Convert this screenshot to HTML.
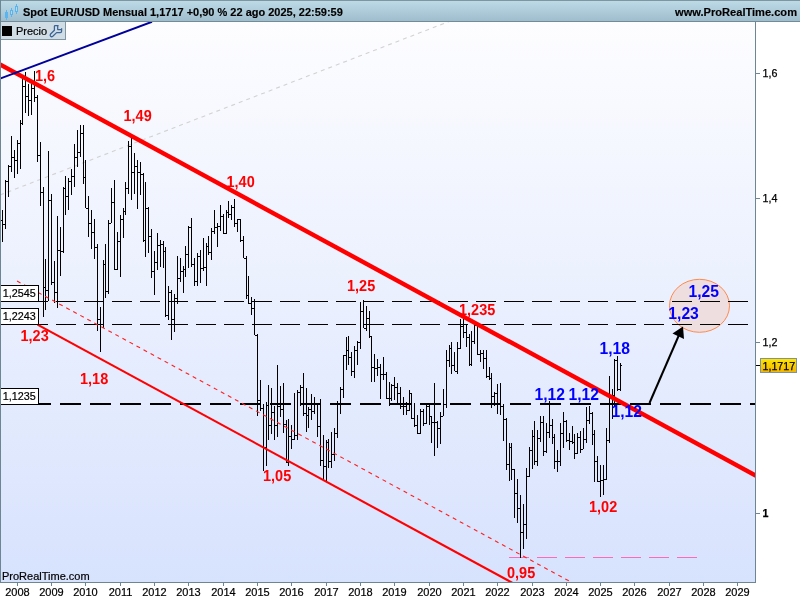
<!DOCTYPE html>
<html><head><meta charset="utf-8"><title>EUR/USD</title>
<style>
html,body{margin:0;padding:0;background:#fff;}
body{width:800px;height:600px;overflow:hidden;font-family:"Liberation Sans",sans-serif;}
svg{display:block;}
text{font-family:"Liberation Sans",sans-serif;}
</style></head><body>
<svg width="800" height="600" viewBox="0 0 800 600" style="will-change:transform">
<defs>
<linearGradient id="bg" x1="0" y1="0" x2="0" y2="1"><stop offset="0" stop-color="#fdfdff"/><stop offset="1" stop-color="#d7e2fd"/></linearGradient>
<linearGradient id="hd" x1="0" y1="0" x2="0" y2="1"><stop offset="0" stop-color="#bedbe8"/><stop offset="1" stop-color="#9dbccb"/></linearGradient>
<linearGradient id="gold" x1="0" y1="0" x2="0" y2="1"><stop offset="0" stop-color="#ffe600"/><stop offset="1" stop-color="#f2b400"/></linearGradient>
<clipPath id="clip"><rect x="1" y="22" width="755" height="560"/></clipPath>
</defs>
<rect x="0" y="0" width="800" height="600" fill="#ffffff"/>
<rect x="0" y="22" width="756" height="561" fill="url(#bg)"/>
<g clip-path="url(#clip)">
  <!-- ellipse -->
  <ellipse cx="699.5" cy="305.8" rx="30" ry="26.5" fill="#efdee0" stroke="#ff8a4c" stroke-width="1"/>
  <!-- grey dashed -->
  <line x1="0" y1="195" x2="452" y2="20.35" stroke="#d2d2d2" stroke-width="1.1" stroke-dasharray="4 4"/>
  <!-- blue line -->
  <!-- horizontal dashed -->
  <g shape-rendering="crispEdges">
  <line x1="0" y1="301.5" x2="748" y2="301.5" stroke="#000" stroke-width="1" stroke-dasharray="20 8"/>
  <line x1="0" y1="324.5" x2="748" y2="324.5" stroke="#000" stroke-width="1" stroke-dasharray="20 8"/>
  <line x1="0" y1="404" x2="756" y2="404" stroke="#000" stroke-width="2" stroke-dasharray="21 9"/>
  <line x1="509" y1="557.5" x2="697" y2="557.5" stroke="#ff6ab5" stroke-width="1" stroke-dasharray="20 8"/>
  </g>
  <!-- bars -->
  <g fill="#000" shape-rendering="crispEdges"><rect x="0" y="208" width="1" height="23"/><rect x="-1" y="230" width="1" height="1"/><rect x="1" y="220" width="1" height="1"/><rect x="2" y="210" width="1" height="32"/><rect x="1" y="220" width="1" height="1"/><rect x="3" y="224" width="1" height="1"/><rect x="5" y="180" width="1" height="49"/><rect x="4" y="224" width="1" height="1"/><rect x="6" y="181" width="1" height="1"/><rect x="8" y="165" width="1" height="32"/><rect x="7" y="181" width="1" height="1"/><rect x="9" y="166" width="1" height="1"/><rect x="11" y="136" width="1" height="36"/><rect x="10" y="166" width="1" height="1"/><rect x="12" y="157" width="1" height="1"/><rect x="14" y="150" width="1" height="28"/><rect x="13" y="157" width="1" height="1"/><rect x="15" y="160" width="1" height="1"/><rect x="17" y="140" width="1" height="34"/><rect x="16" y="160" width="1" height="1"/><rect x="18" y="143" width="1" height="1"/><rect x="20" y="120" width="1" height="49"/><rect x="19" y="143" width="1" height="1"/><rect x="21" y="123" width="1" height="1"/><rect x="22" y="79" width="1" height="46"/><rect x="21" y="123" width="1" height="1"/><rect x="23" y="86" width="1" height="1"/><rect x="25" y="72" width="1" height="41"/><rect x="24" y="86" width="1" height="1"/><rect x="26" y="96" width="1" height="1"/><rect x="28" y="84" width="1" height="32"/><rect x="27" y="96" width="1" height="1"/><rect x="29" y="100" width="1" height="1"/><rect x="31" y="82" width="1" height="33"/><rect x="30" y="100" width="1" height="1"/><rect x="32" y="88" width="1" height="1"/><rect x="34" y="71" width="1" height="31"/><rect x="33" y="88" width="1" height="1"/><rect x="35" y="97" width="1" height="1"/><rect x="37" y="95" width="1" height="67"/><rect x="36" y="97" width="1" height="1"/><rect x="38" y="155" width="1" height="1"/><rect x="40" y="142" width="1" height="64"/><rect x="39" y="155" width="1" height="1"/><rect x="41" y="192" width="1" height="1"/><rect x="43" y="187" width="1" height="130"/><rect x="42" y="192" width="1" height="1"/><rect x="44" y="287" width="1" height="1"/><rect x="45" y="259" width="1" height="51"/><rect x="44" y="287" width="1" height="1"/><rect x="46" y="290" width="1" height="1"/><rect x="48" y="151" width="1" height="150"/><rect x="47" y="290" width="1" height="1"/><rect x="49" y="200" width="1" height="1"/><rect x="51" y="194" width="1" height="91"/><rect x="50" y="200" width="1" height="1"/><rect x="52" y="282" width="1" height="1"/><rect x="54" y="261" width="1" height="42"/><rect x="53" y="282" width="1" height="1"/><rect x="55" y="292" width="1" height="1"/><rect x="57" y="216" width="1" height="92"/><rect x="56" y="292" width="1" height="1"/><rect x="58" y="250" width="1" height="1"/><rect x="60" y="227" width="1" height="49"/><rect x="59" y="250" width="1" height="1"/><rect x="61" y="251" width="1" height="1"/><rect x="63" y="187" width="1" height="66"/><rect x="62" y="251" width="1" height="1"/><rect x="64" y="188" width="1" height="1"/><rect x="65" y="176" width="1" height="39"/><rect x="64" y="188" width="1" height="1"/><rect x="66" y="196" width="1" height="1"/><rect x="68" y="178" width="1" height="32"/><rect x="67" y="196" width="1" height="1"/><rect x="69" y="181" width="1" height="1"/><rect x="71" y="169" width="1" height="26"/><rect x="70" y="181" width="1" height="1"/><rect x="72" y="176" width="1" height="1"/><rect x="74" y="144" width="1" height="43"/><rect x="73" y="176" width="1" height="1"/><rect x="75" y="157" width="1" height="1"/><rect x="77" y="130" width="1" height="37"/><rect x="76" y="157" width="1" height="1"/><rect x="78" y="152" width="1" height="1"/><rect x="80" y="125" width="1" height="32"/><rect x="79" y="152" width="1" height="1"/><rect x="81" y="133" width="1" height="1"/><rect x="83" y="125" width="1" height="59"/><rect x="82" y="133" width="1" height="1"/><rect x="84" y="177" width="1" height="1"/><rect x="85" y="160" width="1" height="48"/><rect x="84" y="177" width="1" height="1"/><rect x="86" y="208" width="1" height="1"/><rect x="88" y="196" width="1" height="41"/><rect x="87" y="208" width="1" height="1"/><rect x="89" y="223" width="1" height="1"/><rect x="91" y="210" width="1" height="39"/><rect x="90" y="223" width="1" height="1"/><rect x="92" y="232" width="1" height="1"/><rect x="94" y="219" width="1" height="40"/><rect x="93" y="232" width="1" height="1"/><rect x="95" y="247" width="1" height="1"/><rect x="97" y="244" width="1" height="87"/><rect x="96" y="247" width="1" height="1"/><rect x="98" y="319" width="1" height="1"/><rect x="100" y="307" width="1" height="45"/><rect x="99" y="319" width="1" height="1"/><rect x="101" y="324" width="1" height="1"/><rect x="103" y="260" width="1" height="68"/><rect x="102" y="324" width="1" height="1"/><rect x="104" y="264" width="1" height="1"/><rect x="105" y="244" width="1" height="54"/><rect x="104" y="264" width="1" height="1"/><rect x="106" y="291" width="1" height="1"/><rect x="108" y="220" width="1" height="74"/><rect x="107" y="291" width="1" height="1"/><rect x="109" y="223" width="1" height="1"/><rect x="111" y="188" width="1" height="35"/><rect x="110" y="223" width="1" height="1"/><rect x="112" y="202" width="1" height="1"/><rect x="114" y="180" width="1" height="90"/><rect x="113" y="202" width="1" height="1"/><rect x="115" y="269" width="1" height="1"/><rect x="117" y="232" width="1" height="38"/><rect x="116" y="269" width="1" height="1"/><rect x="118" y="241" width="1" height="1"/><rect x="120" y="215" width="1" height="62"/><rect x="119" y="241" width="1" height="1"/><rect x="121" y="219" width="1" height="1"/><rect x="123" y="208" width="1" height="30"/><rect x="122" y="219" width="1" height="1"/><rect x="124" y="211" width="1" height="1"/><rect x="125" y="182" width="1" height="33"/><rect x="124" y="211" width="1" height="1"/><rect x="126" y="188" width="1" height="1"/><rect x="128" y="141" width="1" height="53"/><rect x="127" y="188" width="1" height="1"/><rect x="129" y="146" width="1" height="1"/><rect x="131" y="138" width="1" height="62"/><rect x="130" y="146" width="1" height="1"/><rect x="132" y="172" width="1" height="1"/><rect x="134" y="153" width="1" height="41"/><rect x="133" y="172" width="1" height="1"/><rect x="135" y="166" width="1" height="1"/><rect x="137" y="160" width="1" height="49"/><rect x="136" y="166" width="1" height="1"/><rect x="138" y="172" width="1" height="1"/><rect x="140" y="162" width="1" height="33"/><rect x="139" y="172" width="1" height="1"/><rect x="141" y="174" width="1" height="1"/><rect x="143" y="173" width="1" height="69"/><rect x="142" y="174" width="1" height="1"/><rect x="144" y="240" width="1" height="1"/><rect x="145" y="182" width="1" height="75"/><rect x="144" y="240" width="1" height="1"/><rect x="146" y="208" width="1" height="1"/><rect x="148" y="207" width="1" height="46"/><rect x="147" y="208" width="1" height="1"/><rect x="149" y="236" width="1" height="1"/><rect x="151" y="229" width="1" height="49"/><rect x="150" y="236" width="1" height="1"/><rect x="152" y="271" width="1" height="1"/><rect x="154" y="251" width="1" height="44"/><rect x="153" y="271" width="1" height="1"/><rect x="155" y="262" width="1" height="1"/><rect x="157" y="233" width="1" height="37"/><rect x="156" y="262" width="1" height="1"/><rect x="158" y="245" width="1" height="1"/><rect x="160" y="240" width="1" height="27"/><rect x="159" y="245" width="1" height="1"/><rect x="161" y="244" width="1" height="1"/><rect x="163" y="241" width="1" height="27"/><rect x="162" y="244" width="1" height="1"/><rect x="164" y="251" width="1" height="1"/><rect x="165" y="247" width="1" height="70"/><rect x="164" y="251" width="1" height="1"/><rect x="166" y="315" width="1" height="1"/><rect x="168" y="286" width="1" height="34"/><rect x="167" y="315" width="1" height="1"/><rect x="169" y="292" width="1" height="1"/><rect x="171" y="290" width="1" height="50"/><rect x="170" y="292" width="1" height="1"/><rect x="172" y="319" width="1" height="1"/><rect x="174" y="294" width="1" height="38"/><rect x="173" y="319" width="1" height="1"/><rect x="175" y="298" width="1" height="1"/><rect x="177" y="256" width="1" height="48"/><rect x="176" y="298" width="1" height="1"/><rect x="178" y="278" width="1" height="1"/><rect x="180" y="258" width="1" height="24"/><rect x="179" y="278" width="1" height="1"/><rect x="181" y="271" width="1" height="1"/><rect x="183" y="266" width="1" height="27"/><rect x="182" y="271" width="1" height="1"/><rect x="184" y="269" width="1" height="1"/><rect x="185" y="246" width="1" height="31"/><rect x="184" y="269" width="1" height="1"/><rect x="186" y="254" width="1" height="1"/><rect x="188" y="226" width="1" height="42"/><rect x="187" y="254" width="1" height="1"/><rect x="189" y="227" width="1" height="1"/><rect x="191" y="218" width="1" height="49"/><rect x="190" y="227" width="1" height="1"/><rect x="192" y="264" width="1" height="1"/><rect x="194" y="258" width="1" height="28"/><rect x="193" y="264" width="1" height="1"/><rect x="195" y="281" width="1" height="1"/><rect x="197" y="253" width="1" height="33"/><rect x="196" y="281" width="1" height="1"/><rect x="198" y="256" width="1" height="1"/><rect x="200" y="250" width="1" height="33"/><rect x="199" y="256" width="1" height="1"/><rect x="201" y="268" width="1" height="1"/><rect x="203" y="238" width="1" height="33"/><rect x="202" y="268" width="1" height="1"/><rect x="204" y="267" width="1" height="1"/><rect x="206" y="243" width="1" height="43"/><rect x="205" y="267" width="1" height="1"/><rect x="207" y="246" width="1" height="1"/><rect x="208" y="236" width="1" height="19"/><rect x="207" y="246" width="1" height="1"/><rect x="209" y="252" width="1" height="1"/><rect x="211" y="228" width="1" height="32"/><rect x="210" y="252" width="1" height="1"/><rect x="212" y="231" width="1" height="1"/><rect x="214" y="210" width="1" height="24"/><rect x="213" y="231" width="1" height="1"/><rect x="215" y="227" width="1" height="1"/><rect x="217" y="223" width="1" height="24"/><rect x="216" y="227" width="1" height="1"/><rect x="218" y="226" width="1" height="1"/><rect x="220" y="205" width="1" height="26"/><rect x="219" y="226" width="1" height="1"/><rect x="221" y="216" width="1" height="1"/><rect x="223" y="214" width="1" height="20"/><rect x="222" y="216" width="1" height="1"/><rect x="224" y="233" width="1" height="1"/><rect x="226" y="210" width="1" height="24"/><rect x="225" y="233" width="1" height="1"/><rect x="227" y="212" width="1" height="1"/><rect x="228" y="201" width="1" height="17"/><rect x="227" y="212" width="1" height="1"/><rect x="229" y="214" width="1" height="1"/><rect x="231" y="205" width="1" height="15"/><rect x="230" y="214" width="1" height="1"/><rect x="232" y="207" width="1" height="1"/><rect x="234" y="199" width="1" height="28"/><rect x="233" y="207" width="1" height="1"/><rect x="235" y="223" width="1" height="1"/><rect x="237" y="219" width="1" height="13"/><rect x="236" y="223" width="1" height="1"/><rect x="238" y="219" width="1" height="1"/><rect x="240" y="219" width="1" height="23"/><rect x="239" y="219" width="1" height="1"/><rect x="241" y="240" width="1" height="1"/><rect x="243" y="236" width="1" height="22"/><rect x="242" y="240" width="1" height="1"/><rect x="244" y="258" width="1" height="1"/><rect x="246" y="256" width="1" height="43"/><rect x="245" y="258" width="1" height="1"/><rect x="247" y="295" width="1" height="1"/><rect x="248" y="276" width="1" height="28"/><rect x="247" y="295" width="1" height="1"/><rect x="249" y="303" width="1" height="1"/><rect x="251" y="297" width="1" height="18"/><rect x="250" y="303" width="1" height="1"/><rect x="252" y="308" width="1" height="1"/><rect x="254" y="299" width="1" height="36"/><rect x="253" y="308" width="1" height="1"/><rect x="255" y="335" width="1" height="1"/><rect x="257" y="334" width="1" height="82"/><rect x="256" y="335" width="1" height="1"/><rect x="258" y="400" width="1" height="1"/><rect x="260" y="380" width="1" height="31"/><rect x="259" y="400" width="1" height="1"/><rect x="261" y="408" width="1" height="1"/><rect x="263" y="404" width="1" height="67"/><rect x="262" y="408" width="1" height="1"/><rect x="264" y="447" width="1" height="1"/><rect x="266" y="402" width="1" height="64"/><rect x="265" y="447" width="1" height="1"/><rect x="267" y="405" width="1" height="1"/><rect x="268" y="385" width="1" height="55"/><rect x="267" y="405" width="1" height="1"/><rect x="269" y="425" width="1" height="1"/><rect x="271" y="388" width="1" height="46"/><rect x="270" y="425" width="1" height="1"/><rect x="272" y="412" width="1" height="1"/><rect x="274" y="406" width="1" height="34"/><rect x="273" y="412" width="1" height="1"/><rect x="275" y="425" width="1" height="1"/><rect x="277" y="365" width="1" height="72"/><rect x="276" y="425" width="1" height="1"/><rect x="278" y="406" width="1" height="1"/><rect x="280" y="386" width="1" height="31"/><rect x="279" y="406" width="1" height="1"/><rect x="281" y="409" width="1" height="1"/><rect x="283" y="383" width="1" height="50"/><rect x="282" y="409" width="1" height="1"/><rect x="284" y="424" width="1" height="1"/><rect x="286" y="420" width="1" height="43"/><rect x="285" y="424" width="1" height="1"/><rect x="287" y="462" width="1" height="1"/><rect x="288" y="419" width="1" height="47"/><rect x="287" y="462" width="1" height="1"/><rect x="289" y="436" width="1" height="1"/><rect x="291" y="425" width="1" height="24"/><rect x="290" y="436" width="1" height="1"/><rect x="292" y="439" width="1" height="1"/><rect x="294" y="393" width="1" height="47"/><rect x="293" y="439" width="1" height="1"/><rect x="295" y="435" width="1" height="1"/><rect x="297" y="390" width="1" height="50"/><rect x="296" y="435" width="1" height="1"/><rect x="298" y="392" width="1" height="1"/><rect x="300" y="385" width="1" height="21"/><rect x="299" y="392" width="1" height="1"/><rect x="301" y="387" width="1" height="1"/><rect x="303" y="373" width="1" height="43"/><rect x="302" y="387" width="1" height="1"/><rect x="304" y="413" width="1" height="1"/><rect x="306" y="388" width="1" height="44"/><rect x="305" y="413" width="1" height="1"/><rect x="307" y="415" width="1" height="1"/><rect x="308" y="407" width="1" height="21"/><rect x="307" y="415" width="1" height="1"/><rect x="309" y="409" width="1" height="1"/><rect x="311" y="394" width="1" height="26"/><rect x="310" y="409" width="1" height="1"/><rect x="312" y="411" width="1" height="1"/><rect x="314" y="397" width="1" height="17"/><rect x="313" y="411" width="1" height="1"/><rect x="315" y="404" width="1" height="1"/><rect x="317" y="403" width="1" height="34"/><rect x="316" y="404" width="1" height="1"/><rect x="318" y="426" width="1" height="1"/><rect x="320" y="399" width="1" height="67"/><rect x="319" y="426" width="1" height="1"/><rect x="321" y="460" width="1" height="1"/><rect x="323" y="435" width="1" height="46"/><rect x="322" y="460" width="1" height="1"/><rect x="324" y="466" width="1" height="1"/><rect x="326" y="440" width="1" height="42"/><rect x="325" y="466" width="1" height="1"/><rect x="327" y="442" width="1" height="1"/><rect x="328" y="439" width="1" height="29"/><rect x="327" y="442" width="1" height="1"/><rect x="329" y="461" width="1" height="1"/><rect x="331" y="432" width="1" height="36"/><rect x="330" y="461" width="1" height="1"/><rect x="332" y="454" width="1" height="1"/><rect x="334" y="428" width="1" height="33"/><rect x="333" y="454" width="1" height="1"/><rect x="335" y="433" width="1" height="1"/><rect x="337" y="401" width="1" height="37"/><rect x="336" y="433" width="1" height="1"/><rect x="338" y="403" width="1" height="1"/><rect x="340" y="387" width="1" height="27"/><rect x="339" y="403" width="1" height="1"/><rect x="341" y="389" width="1" height="1"/><rect x="343" y="355" width="1" height="43"/><rect x="342" y="389" width="1" height="1"/><rect x="344" y="355" width="1" height="1"/><rect x="346" y="337" width="1" height="33"/><rect x="345" y="355" width="1" height="1"/><rect x="347" y="350" width="1" height="1"/><rect x="348" y="336" width="1" height="29"/><rect x="347" y="350" width="1" height="1"/><rect x="349" y="357" width="1" height="1"/><rect x="351" y="352" width="1" height="24"/><rect x="350" y="357" width="1" height="1"/><rect x="352" y="371" width="1" height="1"/><rect x="354" y="346" width="1" height="32"/><rect x="353" y="371" width="1" height="1"/><rect x="355" y="350" width="1" height="1"/><rect x="357" y="341" width="1" height="24"/><rect x="356" y="350" width="1" height="1"/><rect x="358" y="342" width="1" height="1"/><rect x="360" y="302" width="1" height="47"/><rect x="359" y="342" width="1" height="1"/><rect x="361" y="311" width="1" height="1"/><rect x="363" y="300" width="1" height="28"/><rect x="362" y="311" width="1" height="1"/><rect x="364" y="328" width="1" height="1"/><rect x="366" y="306" width="1" height="25"/><rect x="365" y="328" width="1" height="1"/><rect x="367" y="318" width="1" height="1"/><rect x="369" y="311" width="1" height="27"/><rect x="368" y="318" width="1" height="1"/><rect x="370" y="336" width="1" height="1"/><rect x="371" y="336" width="1" height="46"/><rect x="370" y="336" width="1" height="1"/><rect x="372" y="367" width="1" height="1"/><rect x="374" y="354" width="1" height="28"/><rect x="373" y="367" width="1" height="1"/><rect x="375" y="368" width="1" height="1"/><rect x="377" y="359" width="1" height="17"/><rect x="376" y="368" width="1" height="1"/><rect x="378" y="367" width="1" height="1"/><rect x="380" y="364" width="1" height="35"/><rect x="379" y="367" width="1" height="1"/><rect x="381" y="374" width="1" height="1"/><rect x="383" y="357" width="1" height="23"/><rect x="382" y="374" width="1" height="1"/><rect x="384" y="374" width="1" height="1"/><rect x="386" y="372" width="1" height="27"/><rect x="385" y="374" width="1" height="1"/><rect x="387" y="398" width="1" height="1"/><rect x="389" y="382" width="1" height="24"/><rect x="388" y="398" width="1" height="1"/><rect x="390" y="398" width="1" height="1"/><rect x="391" y="384" width="1" height="17"/><rect x="390" y="398" width="1" height="1"/><rect x="392" y="385" width="1" height="1"/><rect x="394" y="377" width="1" height="23"/><rect x="393" y="385" width="1" height="1"/><rect x="395" y="387" width="1" height="1"/><rect x="397" y="383" width="1" height="21"/><rect x="396" y="387" width="1" height="1"/><rect x="398" y="393" width="1" height="1"/><rect x="400" y="387" width="1" height="22"/><rect x="399" y="393" width="1" height="1"/><rect x="401" y="406" width="1" height="1"/><rect x="403" y="397" width="1" height="18"/><rect x="402" y="406" width="1" height="1"/><rect x="404" y="406" width="1" height="1"/><rect x="406" y="402" width="1" height="13"/><rect x="405" y="406" width="1" height="1"/><rect x="407" y="410" width="1" height="1"/><rect x="409" y="390" width="1" height="21"/><rect x="408" y="410" width="1" height="1"/><rect x="410" y="393" width="1" height="1"/><rect x="411" y="393" width="1" height="26"/><rect x="410" y="393" width="1" height="1"/><rect x="412" y="418" width="1" height="1"/><rect x="414" y="403" width="1" height="24"/><rect x="413" y="418" width="1" height="1"/><rect x="415" y="425" width="1" height="1"/><rect x="417" y="415" width="1" height="19"/><rect x="416" y="425" width="1" height="1"/><rect x="418" y="433" width="1" height="1"/><rect x="420" y="409" width="1" height="25"/><rect x="419" y="433" width="1" height="1"/><rect x="421" y="411" width="1" height="1"/><rect x="423" y="409" width="1" height="17"/><rect x="422" y="411" width="1" height="1"/><rect x="424" y="423" width="1" height="1"/><rect x="426" y="404" width="1" height="20"/><rect x="425" y="423" width="1" height="1"/><rect x="427" y="406" width="1" height="1"/><rect x="429" y="405" width="1" height="20"/><rect x="428" y="406" width="1" height="1"/><rect x="430" y="416" width="1" height="1"/><rect x="431" y="416" width="1" height="27"/><rect x="430" y="416" width="1" height="1"/><rect x="432" y="422" width="1" height="1"/><rect x="434" y="383" width="1" height="73"/><rect x="433" y="422" width="1" height="1"/><rect x="435" y="422" width="1" height="1"/><rect x="437" y="421" width="1" height="27"/><rect x="436" y="422" width="1" height="1"/><rect x="438" y="428" width="1" height="1"/><rect x="440" y="412" width="1" height="32"/><rect x="439" y="428" width="1" height="1"/><rect x="441" y="416" width="1" height="1"/><rect x="443" y="389" width="1" height="27"/><rect x="442" y="416" width="1" height="1"/><rect x="444" y="404" width="1" height="1"/><rect x="446" y="350" width="1" height="58"/><rect x="445" y="404" width="1" height="1"/><rect x="447" y="360" width="1" height="1"/><rect x="449" y="345" width="1" height="22"/><rect x="448" y="360" width="1" height="1"/><rect x="450" y="348" width="1" height="1"/><rect x="451" y="342" width="1" height="32"/><rect x="450" y="348" width="1" height="1"/><rect x="452" y="365" width="1" height="1"/><rect x="454" y="352" width="1" height="19"/><rect x="453" y="365" width="1" height="1"/><rect x="455" y="371" width="1" height="1"/><rect x="457" y="342" width="1" height="32"/><rect x="456" y="371" width="1" height="1"/><rect x="458" y="348" width="1" height="1"/><rect x="460" y="319" width="1" height="30"/><rect x="459" y="348" width="1" height="1"/><rect x="461" y="326" width="1" height="1"/><rect x="463" y="316" width="1" height="22"/><rect x="462" y="326" width="1" height="1"/><rect x="464" y="332" width="1" height="1"/><rect x="466" y="324" width="1" height="23"/><rect x="465" y="332" width="1" height="1"/><rect x="467" y="337" width="1" height="1"/><rect x="469" y="334" width="1" height="32"/><rect x="468" y="337" width="1" height="1"/><rect x="470" y="364" width="1" height="1"/><rect x="471" y="331" width="1" height="35"/><rect x="470" y="364" width="1" height="1"/><rect x="472" y="341" width="1" height="1"/><rect x="474" y="322" width="1" height="22"/><rect x="473" y="341" width="1" height="1"/><rect x="475" y="325" width="1" height="1"/><rect x="477" y="323" width="1" height="32"/><rect x="476" y="325" width="1" height="1"/><rect x="478" y="354" width="1" height="1"/><rect x="480" y="350" width="1" height="12"/><rect x="479" y="354" width="1" height="1"/><rect x="481" y="353" width="1" height="1"/><rect x="483" y="350" width="1" height="19"/><rect x="482" y="353" width="1" height="1"/><rect x="484" y="358" width="1" height="1"/><rect x="486" y="350" width="1" height="28"/><rect x="485" y="358" width="1" height="1"/><rect x="487" y="376" width="1" height="1"/><rect x="489" y="367" width="1" height="13"/><rect x="488" y="376" width="1" height="1"/><rect x="490" y="378" width="1" height="1"/><rect x="491" y="373" width="1" height="35"/><rect x="490" y="378" width="1" height="1"/><rect x="492" y="396" width="1" height="1"/><rect x="494" y="392" width="1" height="14"/><rect x="493" y="396" width="1" height="1"/><rect x="495" y="393" width="1" height="1"/><rect x="497" y="384" width="1" height="30"/><rect x="496" y="393" width="1" height="1"/><rect x="498" y="404" width="1" height="1"/><rect x="500" y="383" width="1" height="32"/><rect x="499" y="404" width="1" height="1"/><rect x="501" y="406" width="1" height="1"/><rect x="503" y="404" width="1" height="37"/><rect x="502" y="406" width="1" height="1"/><rect x="504" y="419" width="1" height="1"/><rect x="506" y="418" width="1" height="52"/><rect x="505" y="419" width="1" height="1"/><rect x="507" y="464" width="1" height="1"/><rect x="509" y="443" width="1" height="38"/><rect x="508" y="464" width="1" height="1"/><rect x="510" y="447" width="1" height="1"/><rect x="511" y="443" width="1" height="37"/><rect x="510" y="447" width="1" height="1"/><rect x="512" y="469" width="1" height="1"/><rect x="514" y="469" width="1" height="49"/><rect x="513" y="469" width="1" height="1"/><rect x="515" y="493" width="1" height="1"/><rect x="517" y="479" width="1" height="44"/><rect x="516" y="493" width="1" height="1"/><rect x="518" y="508" width="1" height="1"/><rect x="520" y="495" width="1" height="63"/><rect x="519" y="508" width="1" height="1"/><rect x="521" y="532" width="1" height="1"/><rect x="523" y="504" width="1" height="45"/><rect x="522" y="532" width="1" height="1"/><rect x="524" y="524" width="1" height="1"/><rect x="526" y="468" width="1" height="71"/><rect x="525" y="524" width="1" height="1"/><rect x="527" y="476" width="1" height="1"/><rect x="529" y="447" width="1" height="30"/><rect x="528" y="476" width="1" height="1"/><rect x="530" y="450" width="1" height="1"/><rect x="532" y="430" width="1" height="39"/><rect x="531" y="450" width="1" height="1"/><rect x="533" y="436" width="1" height="1"/><rect x="534" y="421" width="1" height="44"/><rect x="533" y="436" width="1" height="1"/><rect x="535" y="461" width="1" height="1"/><rect x="537" y="430" width="1" height="36"/><rect x="536" y="461" width="1" height="1"/><rect x="538" y="438" width="1" height="1"/><rect x="540" y="416" width="1" height="26"/><rect x="539" y="438" width="1" height="1"/><rect x="541" y="422" width="1" height="1"/><rect x="543" y="416" width="1" height="40"/><rect x="542" y="422" width="1" height="1"/><rect x="544" y="451" width="1" height="1"/><rect x="546" y="423" width="1" height="30"/><rect x="545" y="451" width="1" height="1"/><rect x="547" y="432" width="1" height="1"/><rect x="549" y="401" width="1" height="37"/><rect x="548" y="432" width="1" height="1"/><rect x="550" y="425" width="1" height="1"/><rect x="552" y="419" width="1" height="25"/><rect x="551" y="425" width="1" height="1"/><rect x="553" y="437" width="1" height="1"/><rect x="554" y="434" width="1" height="35"/><rect x="553" y="437" width="1" height="1"/><rect x="555" y="461" width="1" height="1"/><rect x="557" y="450" width="1" height="22"/><rect x="556" y="461" width="1" height="1"/><rect x="558" y="461" width="1" height="1"/><rect x="560" y="423" width="1" height="43"/><rect x="559" y="461" width="1" height="1"/><rect x="561" y="433" width="1" height="1"/><rect x="563" y="412" width="1" height="36"/><rect x="562" y="433" width="1" height="1"/><rect x="564" y="421" width="1" height="1"/><rect x="566" y="420" width="1" height="22"/><rect x="565" y="421" width="1" height="1"/><rect x="567" y="440" width="1" height="1"/><rect x="569" y="433" width="1" height="17"/><rect x="568" y="440" width="1" height="1"/><rect x="570" y="441" width="1" height="1"/><rect x="572" y="426" width="1" height="18"/><rect x="571" y="441" width="1" height="1"/><rect x="573" y="442" width="1" height="1"/><rect x="574" y="434" width="1" height="25"/><rect x="573" y="442" width="1" height="1"/><rect x="575" y="453" width="1" height="1"/><rect x="577" y="433" width="1" height="21"/><rect x="576" y="453" width="1" height="1"/><rect x="578" y="437" width="1" height="1"/><rect x="580" y="431" width="1" height="22"/><rect x="579" y="437" width="1" height="1"/><rect x="581" y="449" width="1" height="1"/><rect x="583" y="428" width="1" height="21"/><rect x="582" y="449" width="1" height="1"/><rect x="584" y="439" width="1" height="1"/><rect x="586" y="407" width="1" height="36"/><rect x="585" y="439" width="1" height="1"/><rect x="587" y="420" width="1" height="1"/><rect x="589" y="406" width="1" height="18"/><rect x="588" y="420" width="1" height="1"/><rect x="590" y="413" width="1" height="1"/><rect x="592" y="412" width="1" height="33"/><rect x="591" y="413" width="1" height="1"/><rect x="593" y="434" width="1" height="1"/><rect x="594" y="430" width="1" height="52"/><rect x="593" y="434" width="1" height="1"/><rect x="595" y="461" width="1" height="1"/><rect x="597" y="456" width="1" height="26"/><rect x="596" y="461" width="1" height="1"/><rect x="598" y="481" width="1" height="1"/><rect x="600" y="465" width="1" height="32"/><rect x="599" y="481" width="1" height="1"/><rect x="601" y="480" width="1" height="1"/><rect x="603" y="465" width="1" height="30"/><rect x="602" y="480" width="1" height="1"/><rect x="604" y="479" width="1" height="1"/><rect x="606" y="428" width="1" height="52"/><rect x="605" y="479" width="1" height="1"/><rect x="607" y="440" width="1" height="1"/><rect x="609" y="376" width="1" height="67"/><rect x="608" y="440" width="1" height="1"/><rect x="610" y="396" width="1" height="1"/><rect x="612" y="389" width="1" height="30"/><rect x="611" y="396" width="1" height="1"/><rect x="613" y="395" width="1" height="1"/><rect x="614" y="359" width="1" height="47"/><rect x="613" y="395" width="1" height="1"/><rect x="615" y="360" width="1" height="1"/><rect x="617" y="356" width="1" height="35"/><rect x="616" y="360" width="1" height="1"/><rect x="618" y="389" width="1" height="1"/><rect x="620" y="363" width="1" height="28"/><rect x="619" y="389" width="1" height="1"/><rect x="621" y="365" width="1" height="1"/></g>
  <!-- red dotted -->
  <line x1="17" y1="281" x2="572" y2="582.6" stroke="#ff2020" stroke-width="1.1" stroke-dasharray="4 4"/>
  <!-- lower red -->
  <line x1="37.5" y1="324.6" x2="520" y2="587" stroke="#ff0000" stroke-width="2.1"/>
  <!-- main red -->
  <line x1="-2" y1="63.4" x2="758" y2="476.8" stroke="#ff0000" stroke-width="4.4"/>
  <line x1="0" y1="78.6" x2="152" y2="21.8" stroke="#00009a" stroke-width="2"/>
  <!-- arrow -->
  <line x1="649.5" y1="403" x2="679" y2="335" stroke="#000" stroke-width="2"/>
  <polygon points="683,326.5 672.5,333.5 684,339" fill="#000"/>
  <!-- red labels -->
  <g font-weight="bold" font-size="14.5px" fill="#ff0000" style="text-rendering:geometricPrecision">
    <text transform="translate(35,80.5) scale(1,1.1)">1,6</text>
    <text transform="translate(123.5,121) scale(1,1.1)">1,49</text>
    <text transform="translate(226.5,186.5) scale(1,1.1)">1,40</text>
    <text transform="translate(347,290.5) scale(1,1.1)">1,25</text>
    <text transform="translate(459,314.5) scale(1,1.1)">1,235</text>
    <text transform="translate(20.5,340.5) scale(1,1.1)">1,23</text>
    <text transform="translate(80,383.5) scale(1,1.1)">1,18</text>
    <text transform="translate(263,480.5) scale(1,1.1)">1,05</text>
    <text transform="translate(589,511.5) scale(1,1.1)">1,02</text>
    <text transform="translate(507,577.5) scale(1,1.1)">0,95</text>
  </g>
  <g font-weight="bold" font-size="15.7px" fill="#0000ff">
    <text transform="translate(688.5,296.5) scale(1,1.06)">1,25</text>
    <text transform="translate(668.3,318.7) scale(1,1.06)">1,23</text>
    <text transform="translate(599.5,354) scale(1,1.06)">1,18</text>
    <text transform="translate(534.5,400) scale(1,1.06)">1,12</text>
    <text transform="translate(568.5,400) scale(1,1.06)">1,12</text>
    <text transform="translate(611.5,417) scale(1,1.06)">1,12</text>
  </g>
</g>
<!-- left price labels -->
<g font-size="10.8px" fill="#000">
  <g shape-rendering="crispEdges" fill="#fff" stroke="#000" stroke-width="1">
  <rect x="0.5" y="285.5" width="38" height="16"/>
  <rect x="0.5" y="308.5" width="38" height="16"/>
  <rect x="0.5" y="388.5" width="38" height="16"/>
  </g>
  <text x="2.7" y="297" stroke="#000" stroke-width="0.2">1,2545</text>
  <text x="2.7" y="320" stroke="#000" stroke-width="0.2">1,2243</text>
  <text x="2.7" y="400" stroke="#000" stroke-width="0.2">1,1235</text>
</g>
<!-- watermark -->
<text x="2" y="580" font-size="11px" fill="#000" stroke="#000" stroke-width="0.2">ProRealTime.com</text>
<!-- frame -->
<g shape-rendering="crispEdges">
<rect x="0" y="0" width="1" height="583" fill="#6c8694"/>
<rect x="755" y="22" width="1" height="561" fill="#6c8694"/>
<rect x="0" y="582" width="756" height="1" fill="#6c8694"/>
<rect x="17" y="583" width="1" height="3" fill="#6c8694"/><rect x="51" y="583" width="1" height="3" fill="#6c8694"/><rect x="85" y="583" width="1" height="3" fill="#6c8694"/><rect x="120" y="583" width="1" height="3" fill="#6c8694"/><rect x="154" y="583" width="1" height="3" fill="#6c8694"/><rect x="188" y="583" width="1" height="3" fill="#6c8694"/><rect x="223" y="583" width="1" height="3" fill="#6c8694"/><rect x="257" y="583" width="1" height="3" fill="#6c8694"/><rect x="291" y="583" width="1" height="3" fill="#6c8694"/><rect x="326" y="583" width="1" height="3" fill="#6c8694"/><rect x="360" y="583" width="1" height="3" fill="#6c8694"/><rect x="394" y="583" width="1" height="3" fill="#6c8694"/><rect x="429" y="583" width="1" height="3" fill="#6c8694"/><rect x="463" y="583" width="1" height="3" fill="#6c8694"/><rect x="497" y="583" width="1" height="3" fill="#6c8694"/><rect x="532" y="583" width="1" height="3" fill="#6c8694"/><rect x="566" y="583" width="1" height="3" fill="#6c8694"/><rect x="600" y="583" width="1" height="3" fill="#6c8694"/><rect x="634" y="583" width="1" height="3" fill="#6c8694"/><rect x="669" y="583" width="1" height="3" fill="#6c8694"/><rect x="703" y="583" width="1" height="3" fill="#6c8694"/><rect x="737" y="583" width="1" height="3" fill="#6c8694"/>
</g>
<g font-size="11px" fill="#000" stroke="#000" stroke-width="0.2"><text x="17.5" y="596" text-anchor="middle">2008</text><text x="51.5" y="596" text-anchor="middle">2009</text><text x="85.5" y="596" text-anchor="middle">2010</text><text x="120.5" y="596" text-anchor="middle">2011</text><text x="154.5" y="596" text-anchor="middle">2012</text><text x="188.5" y="596" text-anchor="middle">2013</text><text x="223.5" y="596" text-anchor="middle">2014</text><text x="257.5" y="596" text-anchor="middle">2015</text><text x="291.5" y="596" text-anchor="middle">2016</text><text x="326.5" y="596" text-anchor="middle">2017</text><text x="360.5" y="596" text-anchor="middle">2018</text><text x="394.5" y="596" text-anchor="middle">2019</text><text x="429.5" y="596" text-anchor="middle">2020</text><text x="463.5" y="596" text-anchor="middle">2021</text><text x="497.5" y="596" text-anchor="middle">2022</text><text x="532.5" y="596" text-anchor="middle">2023</text><text x="566.5" y="596" text-anchor="middle">2024</text><text x="600.5" y="596" text-anchor="middle">2025</text><text x="634.5" y="596" text-anchor="middle">2026</text><text x="669.5" y="596" text-anchor="middle">2027</text><text x="703.5" y="596" text-anchor="middle">2028</text><text x="737.5" y="596" text-anchor="middle">2029</text></g>
<!-- y axis -->
<g shape-rendering="crispEdges" fill="#6c8694">
<rect x="756" y="73" width="4" height="1"/>
<rect x="756" y="198" width="4" height="1"/>
<rect x="756" y="342" width="4" height="1"/>
<rect x="756" y="513" width="4" height="1"/>
<rect x="756" y="365" width="4" height="1" fill="#000"/>
</g>
<g font-size="10.7px" fill="#000" stroke="#000" stroke-width="0.25">
<text x="762.5" y="77">1,6</text>
<text x="762.5" y="202">1,4</text>
<text x="762.5" y="346">1,2</text>
<text x="762.5" y="517" font-weight="bold">1</text>
</g>
<rect x="760.5" y="358.5" width="36" height="14" fill="url(#gold)" stroke="#7d949f" stroke-width="1"/>
<text x="762.5" y="369.5" font-size="10.7px" fill="#000" stroke="#000" stroke-width="0.25">1,1717</text>
<!-- header -->
<rect x="0" y="0" width="800" height="22" fill="url(#hd)"/>
<g shape-rendering="crispEdges">
<rect x="0" y="0" width="800" height="1" fill="#7f96a2"/>
<rect x="0" y="21" width="800" height="1" fill="#738b98"/>
<rect x="0" y="0" width="1" height="22" fill="#6c8694"/>
</g>
<!-- candle icon -->
<g fill="#5ab4ef" shape-rendering="crispEdges">
<rect x="6" y="10" width="1" height="10"/><rect x="5" y="12" width="3" height="6"/>
<rect x="11" y="8" width="1" height="9"/><rect x="10" y="10" width="3" height="5"/><rect x="11" y="11" width="1" height="3" fill="#b5d6e6"/>
<rect x="16" y="4" width="1" height="10"/><rect x="15" y="6" width="3" height="6"/><rect x="16" y="7" width="1" height="4" fill="#b9d9e7"/>
</g>
<text transform="translate(23,16) scale(1,1.03)" font-size="11px" font-weight="bold" fill="#000" stroke="#000" stroke-width="0.15">Spot EUR/USD Mensual 1,1717 +0,90 % 22 ago 2025, 22:59:59</text>
<text transform="translate(797,16) scale(1,1.03)" font-size="11.1px" font-weight="bold" fill="#000" stroke="#000" stroke-width="0.15" text-anchor="end">www.ProRealTime.com</text>
<!-- legend -->
<g shape-rendering="crispEdges">
<rect x="1" y="22" width="65" height="18" fill="#d0dde5"/>
<rect x="65" y="22" width="1" height="18" fill="#8097a3"/>
<rect x="1" y="39" width="65" height="1" fill="#8097a3"/>
<rect x="2" y="26" width="10" height="10" fill="#000"/>
</g>
<text x="16" y="34.7" font-size="11px" fill="#000" stroke="#000" stroke-width="0.2">Precio</text>
<path d="M58.6,25.5 H55.2 Q54.4,25.5 54.4,26.3 V30.3 L50.6,34 Q49.6,35.3 50.6,36.2 Q51.6,37.2 52.8,36.3 L56.6,32.6 H60.2 Q61.6,32.6 61.6,31.2 V28.2 M61.6,29.6 H57.7 V25.5" fill="none" stroke="#3a6496" stroke-width="1.25" stroke-linejoin="round"/>
</svg>
</body></html>
